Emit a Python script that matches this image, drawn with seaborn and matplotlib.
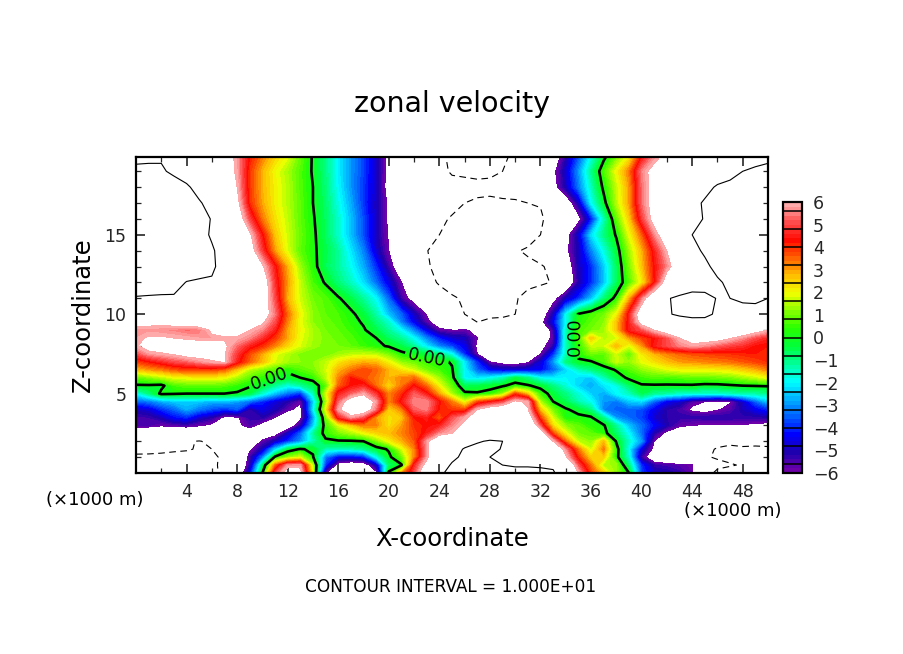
import numpy as np
import seaborn as sns
import matplotlib.pyplot as plt
from matplotlib.colors import ListedColormap, BoundaryNorm

# field: x every 1 km, z every 0.5 km below 10 and every 1 km above
x_km = list(range(0, 51))
z_km = [0,0.5,1,1.5,2,2.5,3,3.5,4,4.5,5,5.5,6,6.5,7,7.5,8,8.5,9,9.5,10,11,12,13,14,15,16,17,18,19,20]

z0_0 = [-11,-11,-11,-11,-11,-11,-10.5,-9.5,-7.5,-4.5,0,5,6.8,6.5,2,-6,-8,-8.5,-8,-6.3,0.2,3,5,7.5,9.7,10.5,10.8,11,11,11,11,11,10.8,10.3,8.3,6,3.8,2.5,1.2,0,-3.8,-4.8,-5,-5.3,-5.8,-9,-10.5,-10.5,-10.3,-10.5,-10.5]
z0_5 = [-10.5,-10.7,-10.8,-10.8,-10.8,-11,-10.4,-9.5,-8,-5.3,-1,3.4,5.6,5.7,1.5,-4,-6.5,-7,-6.8,-5,-0.8,-0.1,4.5,6.5,9.5,10.1,10.5,10.5,10.3,10,9.7,9.7,9.6,9.6,8,5,3.3,1.5,1.3,-1,-4,-5.4,-5.5,-5.7,-5.9,-7.5,-9.5,-9.9,-10.1,-10,-10]
z1_0 = [-10.3,-10.2,-10.3,-10.4,-10.4,-10.6,-10.3,-9.7,-8.5,-5.5,-3.3,0.2,1.2,1.7,0.1,-3.3,-4.5,-4.5,-4.2,-2,-0.2,0.9,3.2,5.7,8.3,9.8,10.2,10.3,10,9.7,9.4,9.3,9.2,8.6,6.2,4,2.4,2.5,0.3,-1.7,-5.5,-7,-8,-9,-9.6,-9.8,-10.2,-10.3,-10.2,-10.3,-10.3]
z1_5 = [-9.5,-9.7,-9.7,-9.8,-9.9,-10.1,-10,-9.5,-8.5,-6.2,-5,-2.5,-0.5,0.1,-0.2,-1.5,-1.6,-1.5,-1.2,-0.4,0.1,1.7,3.2,5.7,8,9.5,10.1,10.3,10.4,9.9,9.3,9,8.7,7.5,5.5,3.3,1.7,3.3,0.4,-2,-4.7,-6.3,-7.8,-8.5,-9.3,-9.7,-10.1,-10.2,-10.1,-10.2,-10.2]
z2_0 = [-8,-8.5,-9,-9.3,-9.8,-10.1,-9.6,-8.5,-8,-7.5,-5.8,-5,-4,-3,-1.5,-0.2,-0.1,-0.1,0,1,2,2.8,3.6,5.7,7.5,8.3,9.5,9.9,10.1,10,9.5,9,8.3,6,3.4,1.6,1.2,2.7,-0.1,-1.6,-3,-6,-7,-8,-8.5,-9,-9.6,-9.8,-9.8,-9.7,-9.6]
z2_5 = [-7.5,-7.5,-7.5,-7.5,-7.5,-7.5,-7.5,-7.5,-7.2,-7,-7,-6.5,-5,-3.5,-1.2,0.4,1,1.4,1.9,2.4,2.7,3.2,3.8,4.5,5.5,6,7.5,8.8,9.3,9.5,9.5,9,7,3.7,2,1,0.8,0.3,-0.8,-2,-3.4,-5.2,-6.3,-7,-7.5,-7.8,-8,-8,-8,-8,-8]
z3_0 = [-5.6,-5.6,-5.9,-5.7,-5.6,-5.9,-6.2,-6.6,-6.3,-5.6,-6.4,-7,-7,-5.3,-2.5,0.5,1.8,2.5,3.3,3.2,2.3,3,4,4.3,4.5,5.5,6.3,8,8.5,8.7,8.6,8,5,2.3,1.2,0.8,0.3,0.1,-1.2,-2.6,-3.4,-4.3,-5.1,-5.8,-6,-6.1,-6.1,-6.1,-6.1,-6.2,-6.4]
z3_5 = [-5.5,-5.4,-5,-4.3,-4,-4.8,-5.2,-6.2,-6.1,-5.3,-5.2,-6,-7,-6.3,-3,1,4.5,5.7,5,3,2.3,2.6,4.2,4.5,3.5,5,5.8,6.5,7.5,8,8,7,3.8,1.7,0.2,0.2,0.1,-1.2,-3,-3.4,-3.8,-4.8,-5.2,-5.3,-5.3,-5.2,-5.2,-5.2,-5.3,-5.3,-5.2]
z4_0 = [-5,-4.7,-4,-3.5,-2.8,-3.3,-3.7,-4,-3.6,-5.3,-4.6,-5,-5.8,-6.3,-2.2,2,5.8,7,7,5.3,2.5,3.2,5.2,5.5,4.2,3.9,3.7,6,6.8,7.2,7.3,6.1,2.6,1,0.1,-0.3,-1,-3.2,-3.5,-3.5,-3.7,-4.5,-5.2,-5.5,-6.2,-6.5,-6.1,-5.7,-5,-4.5,-4]
z4_5 = [-3.5,-3.3,-2.8,-2.5,-2.4,-2.5,-2.7,-2.6,-2.9,-3.4,-4,-4.7,-5.2,-5.9,-2.5,1.3,5.2,6.8,7.2,5.7,3.2,4.4,5.6,5.6,4.3,3.2,1.8,3.6,4.2,4.8,6.2,5.8,1.4,0,-0.6,-1.4,-1.9,-3,-3.3,-2.5,-2.3,-3.5,-4.5,-4.8,-5.7,-6,-6.3,-6.1,-4.8,-3.5,-2.5]
z5_0 = [-2,-1,0.2,0.1,0,0,0,0,-0.1,-0.5,-1.7,-2.6,-3.4,-4,-1.5,1.7,4.5,5.2,5.8,4.7,3.2,4,5.2,4.4,2.9,1.4,0.2,0.1,0.3,1.2,3.8,2.5,0.5,-0.4,-1,-1.7,-2.4,-2.8,-2,-1.5,-0.6,-1.2,-1.3,-1.6,-1.7,-1.7,-1.7,-1.5,-1.4,-1.3,-1.2]
z5_5 = [-0.1,-0.1,-0.2,0.6,0.8,0.8,0.8,0.7,0.4,0.1,-0.4,-1.2,-1.8,-1.3,-0.6,0.7,3.5,4.3,4.6,3.4,2.4,3.3,4.3,3.4,2,0.8,-0.7,-0.5,-0.3,-0.1,0.3,0.1,-0.3,-1,-1.7,-2.4,-2.8,-2.2,-1.8,-0.8,-0.1,-0.1,-0.1,-0.1,-0.1,-0.2,-0.2,-0.1,0,0.05,0.1]
z6_0 = [0.8,1.1,1.5,1.9,2,2.1,2.1,2,1.4,0.8,0.4,-0.1,-0.3,0,0.4,1.5,3.2,4.2,3.7,3.3,2.8,3.2,3.4,2.2,1.3,0.3,-2,-2.3,-2,-1.5,-0.5,-1,-2,-2.2,-2,-2.3,-2.5,-1.5,-0.5,0.2,0.5,0.7,0.6,0.7,0.8,0.8,0.9,1,1.3,1.6,2]
z6_5 = [2.6,3,3.2,3.6,3.8,3.8,3.8,3.5,2.6,1.5,1.1,0.7,0.2,0.7,1,1.7,2.8,3.3,3.8,3.5,2.8,2.2,1.7,1,0.6,0.1,-2,-3.5,-4.4,-4.7,-4.8,-4.6,-4.4,-3.5,-2.4,-1.5,-1,-0.5,0.1,0.7,1.2,1.5,1.8,2,2,2,2.1,2.2,2.5,2.8,3.2]
z7_0 = [3.8,4.2,4.6,5,5.2,5.6,5.9,6.1,4.5,3.5,2.7,1.8,1.4,1.2,1.2,1.6,2.2,2.6,2.8,2.7,2,1.2,0.9,0.5,0.3,-0.1,-2.2,-4,-6,-6.5,-6.6,-6.2,-4.8,-3,-1,-0.2,-0.1,0.6,1.7,1.2,1.9,2.3,2.7,3,3.1,3.2,3.3,3.4,3.6,3.8,4]
z7_5 = [5,5.7,5.9,6.1,6.5,6.5,6.4,6.1,4.8,3.7,2.9,1.9,1.5,1.1,1,1,1.3,1.5,1.6,1.5,1,0.2,-0.1,-0.5,-1,-2,-4,-6,-7.2,-7.5,-7.3,-6.8,-6,-4,-1.5,0.3,1,0.8,1.7,0.8,2.2,2.8,3.2,3.5,3.7,3.8,3.9,4,4.1,4.2,4.1]
z8_0 = [5.9,6.5,6.6,6.6,6.5,6.5,6.4,6.2,5.3,4.5,4,3.2,2.4,1.8,1.3,1.1,1,0.8,0.5,0.2,-0.1,-0.5,-1.2,-2.2,-3.2,-3.8,-4.5,-6.2,-7.5,-8,-8,-7.5,-6.5,-5.3,-1.5,0.4,1.7,1.7,2.8,1.8,3,4.5,5,5.5,5.8,5.6,5.2,4.9,4.7,4.3,4.2]
z8_5 = [5.8,6.1,6.1,6,5.9,5.8,5.8,5.9,5.9,5.5,4.7,3.9,2.9,1.9,1.4,1.1,0.9,0.7,0.3,0,-0.7,-1.2,-2,-3.2,-4.2,-4.8,-5,-6,-7.5,-8.5,-8.8,-8,-7,-5.7,-1.5,0.6,2.6,1.5,1.8,3,3.8,4.3,5,6,6.5,6.5,6.5,6.1,5.6,5,4.6]
z9_0 = [5.6,5.7,5.6,5.5,5.3,5.4,6.2,6.6,6.5,6,5.5,4.5,2.9,2,1.4,1,0.8,0.5,0.1,-0.5,-1.2,-2,-3.2,-4.6,-5.8,-6,-5.9,-6.2,-8.5,-9,-9,-8.5,-7.5,-5.5,-1.5,0.6,1,1.3,2.6,4.5,5,6,6.8,7.5,8,8,8,7.5,7,6.5,6]
z9_5 = [6.4,6.3,6.3,6.5,6.7,7,7,7,7,6.9,6.2,5,3.2,1.9,1.2,0.9,0.7,0.3,-0.1,-0.9,-1.6,-3.2,-4.5,-5.7,-6.8,-8.5,-9.9,-10,-9.7,-9.7,-9.5,-8.5,-6.5,-4.5,-2,0.3,0.8,1.2,2.6,4.5,6.5,7.3,8.2,9,9.5,9.6,9.3,9.2,9,9,9]
z10 = [8,8,8,8,8,7.8,7.6,7.5,7.5,7.4,6.7,5.4,3.4,2,1.2,0.8,0.6,0.2,-0.4,-1.3,-2.6,-3.5,-4.9,-6.1,-7.5,-9,-10,-10.3,-10.3,-10.2,-10,-9,-7,-5,-2,0.1,0.6,1,2,4.5,7,8,9.8,10.3,10.4,10.3,9.8,9.6,9.5,9.6,9.7]
z11 = [9.9,9.8,9.7,9.7,9.6,9.5,9.3,9,8.3,7.8,6.9,5,2.8,1.7,1,0.7,0.1,-0.5,-1.2,-2,-3.5,-5.5,-6.5,-7.5,-8.7,-9.7,-10.3,-10.6,-10.6,-10.5,-10.3,-9,-7.8,-6.5,-5,-4,-2.6,-0.9,0.3,2.8,5.3,7.5,9.8,10.5,11,10.6,9.9,10,10.2,10.2,10]
z12 = [10.7,10.9,11,10.9,9.9,9.7,9.8,9.2,8.8,8.3,7,4.7,3,1.6,0.6,-0.1,-0.9,-1.5,-2.3,-3.4,-4.6,-6,-7.5,-9,-10.3,-11,-11.5,-11.5,-11.5,-11.2,-11,-10.8,-10.5,-9.8,-7.5,-5.2,-4,-2.6,-0.7,0.7,2.1,4.2,6.9,7.8,8.5,9,9.8,10.3,10.7,10.8,11]
z13 = [12,12,12,12,11.5,11,10.3,9.3,8.5,7.4,6.2,4.4,2.8,1.3,0.3,-0.6,-1.2,-1.9,-2.8,-4,-5.5,-7,-8.5,-9.6,-11,-11.5,-11.5,-11.5,-11.5,-11.3,-10.6,-10.5,-10.2,-9.5,-7,-5,-4,-2.5,-0.7,1,2.6,4.3,5.5,7,8.8,9.7,10.4,11,11,11,11]
z14 = [12.5,12.5,12.5,12.5,12,11.2,10.2,9.3,8.2,6.7,4.8,3,1.8,0.8,0.2,-0.5,-1.2,-2.2,-3.2,-4.8,-6,-7.5,-8.7,-9.9,-11,-11.5,-12,-12,-11.7,-11,-10.2,-9.7,-9,-8,-6.3,-5,-3.2,-1.8,-0.4,1.3,2.8,4.5,6,7.5,9.6,10.2,10.8,11.2,11.3,11.3,11.3]
z15 = [12.5,12.7,12.7,12.3,11.5,10.6,9.8,8.9,7.8,6.2,4.3,2.6,1.7,0.9,0.2,-0.7,-1.6,-2.6,-3.7,-5,-6.1,-7.5,-8.8,-9.6,-10,-11,-11.5,-11.8,-12,-12,-11.5,-11,-10,-9,-6.5,-4.8,-2.3,-1,0.1,1.9,3.5,5.5,7,8.5,10,10.4,10.6,11,11,11,11]
z16 = [12.5,13,13,12.5,11.5,10.7,9.9,8.9,7,4.9,3.3,2.3,1.6,0.8,0.1,-0.7,-1.6,-2.6,-3.7,-5,-6.2,-7.5,-8.5,-9.3,-9.8,-10.1,-10.7,-11.2,-11.5,-11.5,-11.2,-11,-10.5,-8.5,-7.5,-6.4,-4.2,-1.5,0.8,2.5,4.8,6.5,7.5,8.5,9.5,10.1,10.7,11,11.2,11.2,11.2]
z17 = [12,12.2,12.2,11.8,11,10.2,9.3,8,6.4,4,2.9,2.1,1.5,0.8,0,-0.8,-1.8,-2.8,-3.9,-5,-6.2,-7.5,-8.5,-9.2,-9.5,-9.7,-10,-10.2,-10.3,-10.2,-10.2,-10,-9.8,-9,-7,-5,-2,-0.3,1.5,3,5.3,6.6,7.5,8.5,9.5,10.2,10.5,10.8,11,11,11]
z18 = [11.7,11.5,11,10.7,10.3,9.3,8.3,7,6,3.9,2.8,2.1,1.5,0.7,0,-0.9,-2,-3,-3.9,-4.9,-6.5,-7.5,-8.2,-8.8,-9.1,-9.4,-9.5,-9.6,-9.6,-9.5,-9.3,-9,-8.5,-6.5,-5,-3.3,-1.5,0.2,1.6,3,5.3,6.6,7.3,8,8.7,9.5,10.2,10.4,10.6,10.7,10.8]
z19 = [10.4,10.3,10.2,9.7,9,8.2,7.5,6.8,5.8,3.9,2.8,2,1.4,0.7,-0.1,-1,-2.1,-3,-3.8,-4.9,-6.4,-7.5,-8.5,-9,-9.5,-10.2,-10.3,-10.4,-10.3,-10,-9.6,-9,-8.2,-6.3,-4.8,-3,-1.1,0.6,2,3.3,5.5,6.5,7,7.5,8,8.5,9,9.5,10,10.2,10.3]
z20 = [9.5,9.7,9.8,9.5,9,8.3,7.5,6.8,5.7,4.2,3.3,2.5,1.9,0.9,-0.1,-1,-2.1,-3,-3.8,-4.9,-6.4,-7.5,-8.5,-9.2,-9.8,-10.2,-10.7,-10.8,-10.6,-10.2,-9.8,-9.2,-8.5,-7,-5.3,-3.7,-1.9,-0.3,0.9,2,4.2,5.5,6.4,7,7.5,8,8.5,9,9.3,9.5,9.7]
rows = [z0_0,z0_5,z1_0,z1_5,z2_0,z2_5,z3_0,z3_5,z4_0,z4_5,z5_0,z5_5,z6_0,z6_5,z7_0,z7_5,z8_0,z8_5,z9_0,z9_5,
        z10,z11,z12,z13,z14,z15,z16,z17,z18,z19,z20]

xticks_major = [4,8,12,16,20,24,28,32,36,40,44,48]
yticks_major = [5,10,15]
bar_labels = [6,5,4,3,2,1,0,-1,-2,-3,-4,-5,-6]
# colours at even steps from -6 to 6
anchors = ["#6e00aa","#1e00af","#0000ff","#005aff","#00afff","#00ffff","#00ff9b","#00ff3c",
           "#28ff00","#87ff00","#f0ff00","#ffbe00","#ff5f00","#ff0a00","#ff4b4b","#ffaaaa"]

W, H = 904, 654
sns.set_style("white")
plt.rcParams["font.family"] = ["DejaVu Sans"]

levels = np.round(np.arange(-6, 6.01, 0.2), 1)
cmap = ListedColormap(sns.blend_palette(anchors, n_colors=len(levels) - 1))
norm = BoundaryNorm(levels, cmap.N)
field = np.array(rows, dtype=float)

fig = plt.figure(figsize=(W / 100, H / 100), dpi=100, facecolor="white")

def px_box(x0, y0, x1, y1):
    return [x0 / W, 1 - y1 / H, (x1 - x0) / W, (y1 - y0) / H]

def label(x, y, s, size, **kw):
    fig.text(x / W, 1 - y / H, s, fontsize=size, color="black", ha=kw.pop("ha", "center"), va="center", **kw)

ax = fig.add_axes(px_box(136, 157, 768, 473))
filled = ax.contourf(x_km, z_km, field, levels=levels, cmap=cmap, norm=norm)
ax.contour(x_km, z_km, field, levels=[10], colors="black", linewidths=0.8, linestyles="solid")
ax.contour(x_km, z_km, field, levels=[-10], colors="black", linewidths=0.8, linestyles=[(0, (6, 4))])
zero = ax.contour(x_km, z_km, field, levels=[0], colors="black", linewidths=1.9)
ax.clabel(zero, fmt="%.2f", fontsize=12.5, inline_spacing=3,
          manual=[(23, 7.2), (10.6, 5.9), (34.7, 8.6)])

ax.set_xlim(0, 50)
ax.set_ylim(0, 19.9)
ax.set_xticks(xticks_major)
ax.set_yticks(yticks_major)
ax.set_xticks(np.arange(2, 50, 4), minor=True)
ax.set_yticks([v for v in range(1, 20) if v % 5], minor=True)
ax.tick_params(which="major", direction="in", length=6.5, width=1.2, top=True, right=True,
               bottom=True, left=True, labelsize=12.5, pad=7)
ax.tick_params(which="minor", direction="in", length=3.3, width=0.9, top=True, right=True,
               bottom=True, left=True)
for s in ax.spines.values():
    s.set_linewidth(1.6)
    s.set_color("black")

# colour bar
cax = fig.add_axes(px_box(783.5, 202, 802, 473))
cb = fig.colorbar(filled, cax=cax, ticks=bar_labels)
cb.minorticks_off()
cb.outline.set_linewidth(1.6)
cb.outline.set_edgecolor("black")
cax.hlines(np.round(np.arange(-5.6, 5.7, 0.8), 1), 0, 1, transform=cax.get_yaxis_transform(),
           colors="black", linewidth=1.1)
cax.tick_params(length=0, labelsize=12.5, pad=8)

label(452, 104, "zonal velocity", 20.5)
label(452, 539, "X-coordinate", 17.5)
label(83, 315, "Z-coordinate", 17.5, rotation=90)
label(95, 500, "(×1000 m)", 13)
label(733, 511, "(×1000 m)", 13)
label(451, 587, "CONTOUR INTERVAL = 1.000E+01", 12.2)

fig.savefig("out.png", dpi=100, facecolor="white")
